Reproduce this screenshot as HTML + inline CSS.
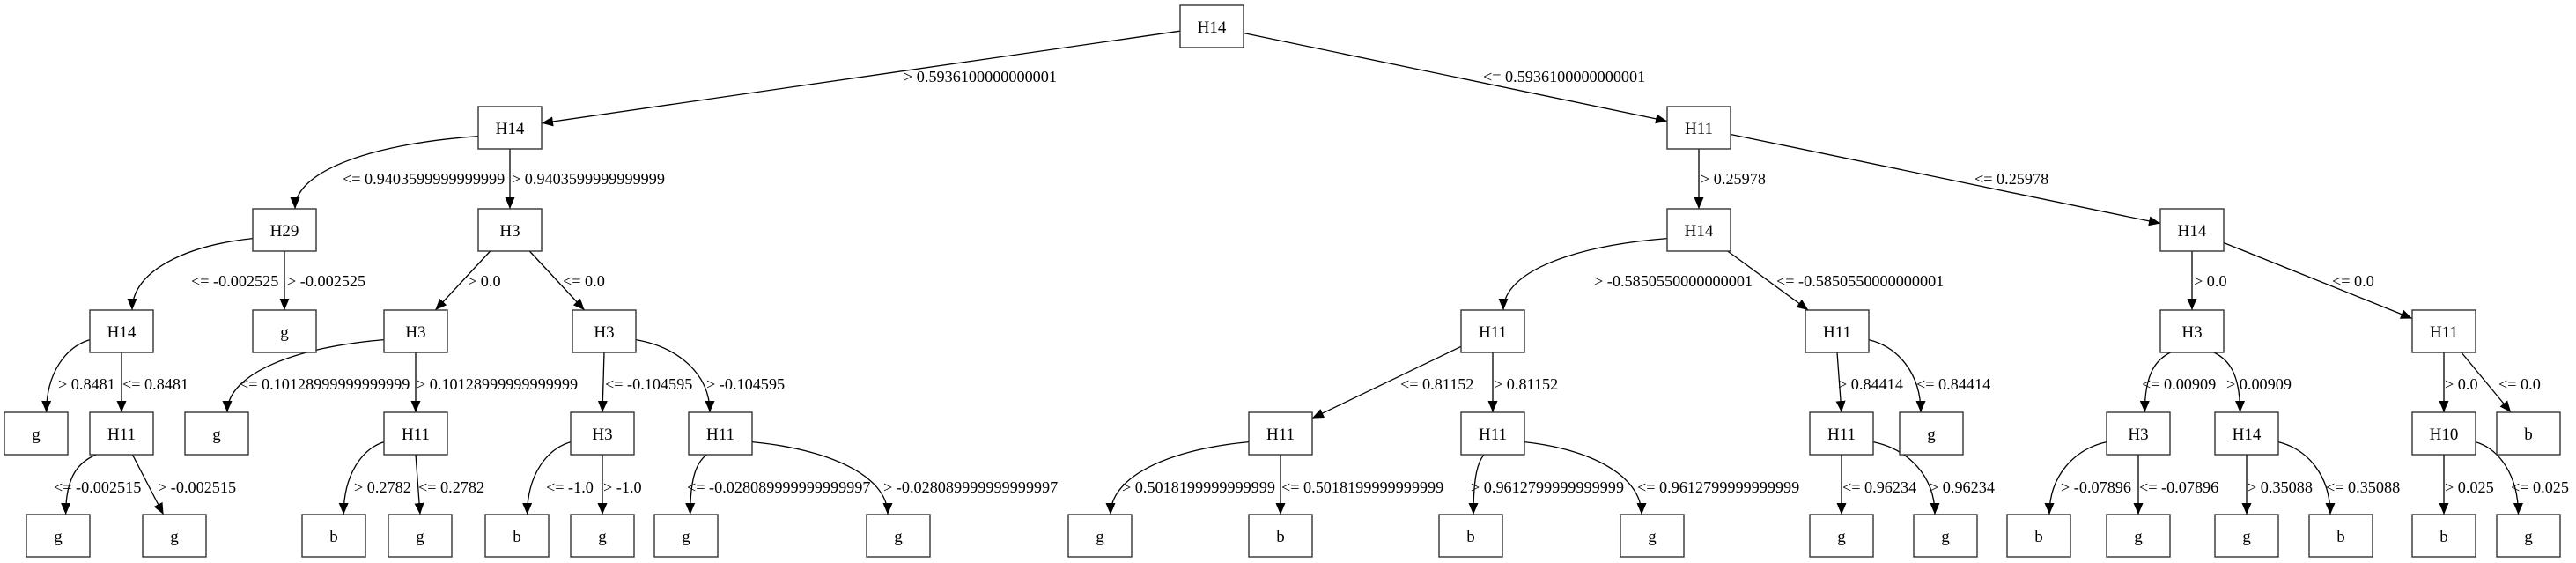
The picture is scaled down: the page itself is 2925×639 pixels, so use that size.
<!DOCTYPE html>
<html><head><meta charset="utf-8">
<style>
html,body{margin:0;padding:0;background:#fff;}
svg{display:block;}
text{font-family:"Liberation Serif","DejaVu Serif",serif;font-size:19px;fill:#000;}
#L text{font-size:18.2px;}
</style></head>
<body>
<svg id="s" width="2925" height="639" viewBox="0 0 2925 639" xmlns="http://www.w3.org/2000/svg">
<defs><marker id="ah" markerUnits="userSpaceOnUse" markerWidth="14" markerHeight="12" refX="13" refY="6" orient="auto"><path d="M0,0.5 L13,6 L0,11.5 z" fill="#000"/></marker></defs>
<g id="E"></g><g id="N"></g><g id="L">
<text x="1026" y="93">&gt; 0.5936100000000001</text>
<text x="1684" y="93">&lt;= 0.5936100000000001</text>
<text x="389" y="209">&lt;= 0.9403599999999999</text>
<text x="581" y="209">&gt; 0.9403599999999999</text>
<text x="1931" y="209">&gt; 0.25978</text>
<text x="2242" y="209">&lt;= 0.25978</text>
<text x="217" y="325">&lt;= -0.002525</text>
<text x="326" y="325">&gt; -0.002525</text>
<text x="531" y="325">&gt; 0.0</text>
<text x="639" y="325">&lt;= 0.0</text>
<text x="1810" y="325">&gt; -0.5850550000000001</text>
<text x="2017" y="325">&lt;= -0.5850550000000001</text>
<text x="2491" y="325">&gt; 0.0</text>
<text x="2648" y="325">&lt;= 0.0</text>
<text x="66" y="442">&gt; 0.8481</text>
<text x="139" y="442">&lt;= 0.8481</text>
<text x="272" y="442">&lt;= 0.10128999999999999</text>
<text x="473" y="442">&gt; 0.10128999999999999</text>
<text x="687" y="442">&lt;= -0.104595</text>
<text x="802" y="442">&gt; -0.104595</text>
<text x="1590" y="442">&lt;= 0.81152</text>
<text x="1696" y="442">&gt; 0.81152</text>
<text x="2087" y="442">&gt; 0.84414</text>
<text x="2176" y="442">&lt;= 0.84414</text>
<text x="2432" y="442">&lt;= 0.00909</text>
<text x="2528" y="442">&gt; 0.00909</text>
<text x="2776" y="442">&gt; 0.0</text>
<text x="2837" y="442">&lt;= 0.0</text>
<text x="61" y="559">&lt;= -0.002515</text>
<text x="179" y="559">&gt; -0.002515</text>
<text x="402" y="559">&gt; 0.2782</text>
<text x="475" y="559">&lt;= 0.2782</text>
<text x="620" y="559">&lt;= -1.0</text>
<text x="685" y="559">&gt; -1.0</text>
<text x="780" y="559">&lt;= -0.028089999999999997</text>
<text x="1003" y="559">&gt; -0.028089999999999997</text>
<text x="1274" y="559">&gt; 0.5018199999999999</text>
<text x="1455" y="559">&lt;= 0.5018199999999999</text>
<text x="1670" y="559">&gt; 0.9612799999999999</text>
<text x="1859" y="559">&lt;= 0.9612799999999999</text>
<text x="2092" y="559">&lt;= 0.96234</text>
<text x="2191" y="559">&gt; 0.96234</text>
<text x="2340" y="559">&gt; -0.07896</text>
<text x="2429" y="559">&lt;= -0.07896</text>
<text x="2552" y="559">&gt; 0.35088</text>
<text x="2641" y="559">&lt;= 0.35088</text>
<text x="2776" y="559">&gt; 0.025</text>
<text x="2851" y="559">&lt;= 0.025</text>
</g>
</svg>
<script>
var R=[6,121,237,352,468,584],W=72,H=48;
var nodes=[
["H14",1376,0],["H14",579,1],["H11",1929,1],
["H29",323,2],["H3",579,2],["H14",1929,2],["H14",2489,2],
["H14",138,3],["g",323,3],["H3",472,3],["H3",686,3],["H11",1695,3],["H11",2086,3],["H3",2489,3],["H11",2775,3],
["g",41,4],["H11",138,4],["g",246,4],["H11",472,4],["H3",684,4],["H11",818,4],["H11",1454,4],["H11",1695,4],["H11",2091,4],["g",2193,4],["H3",2428,4],["H14",2551,4],["H10",2775,4],["b",2871,4],
["g",66,5],["g",198,5],["b",379,5],["g",477,5],["b",587,5],["g",684,5],["g",779,5],["g",1020,5],["g",1249,5],["b",1454,5],["b",1670,5],["g",1876,5],["g",2091,5],["g",2209,5],["b",2315,5],["g",2428,5],["g",2551,5],["b",2658,5],["b",2775,5],["g",2871,5]];
var edges=[[0,1],[0,2],[1,3],[1,4],[2,5],[2,6],[3,7],[3,8],[4,9],[4,10],[5,11],[5,12],[6,13],[6,14],
[7,15],[7,16],[9,17],[9,18],[10,19],[10,20],[11,21],[11,22],[12,23],[12,24],[13,25],[13,26],[14,27],[14,28],
[16,29],[16,30],[18,31],[18,32],[19,33],[19,34],[20,35],[20,36],[21,37],[21,38],[22,39],[22,40],[23,41],[23,42],[25,43],[25,44],[26,45],[26,46],[27,47],[27,48]];
var straight={"4,9":1,"4,10":1,"11,21":1,"5,12":1,"6,14":1,"14,28":1,"16,30":1};
var NS="http://www.w3.org/2000/svg";
function el(t,a,p){var e=document.createElementNS(NS,t);for(var k in a)e.setAttribute(k,a[k]);p.appendChild(e);return e;}
var N=document.getElementById("N"),E=document.getElementById("E");
nodes.forEach(function(n){var y=R[n[2]];el("rect",{x:n[1]-W/2,y:y,width:W,height:H,fill:"#fff",stroke:"#333","stroke-width":1.4},N);
var t=el("text",{x:n[1],y:y+31,"text-anchor":"middle"},N);t.textContent=n[0];});
function clip(cx,cy,tx,ty){var dx=tx-cx,dy=ty-cy;var s=Math.min(Math.abs((W/2)/(dx||1e-9)),Math.abs((H/2)/(dy||1e-9)));return [cx+dx*s,cy+dy*s];}
edges.forEach(function(e){var p=nodes[e[0]],c=nodes[e[1]];var px=p[1],py=R[p[2]],cx=c[1],cy=R[c[2]];var dx=cx-px,sg=dx>0?1:-1,d;
if(Math.abs(dx)<12){d="M"+px+","+(py+H)+" L"+cx+","+cy;}
else if(Math.abs(dx)>=300||straight[e[0]+","+e[1]]){var a=clip(px,py+H/2,cx,cy+H/2),b=clip(cx,cy+H/2,px,py+H/2);d="M"+a[0]+","+a[1]+" L"+b[0]+","+b[1];}
else{var sx,sy;if(Math.abs(dx)>90){sx=px+sg*W/2;sy=py+H*0.7;}else{sx=px+sg*Math.min(Math.abs(dx)*0.4,30);sy=py+H;}
var ex=cx-sg*Math.min(Math.abs(dx)*0.12,12),ey=cy;
d="M"+sx+","+sy+" C"+(sx+(ex-sx)*0.55)+","+(sy+8)+" "+ex+","+(ey-45)+" "+ex+","+ey;}
el("path",{d:d,fill:"none",stroke:"#000","stroke-width":1.3,"marker-end":"url(#ah)"},E);});
</script>
</body></html>
